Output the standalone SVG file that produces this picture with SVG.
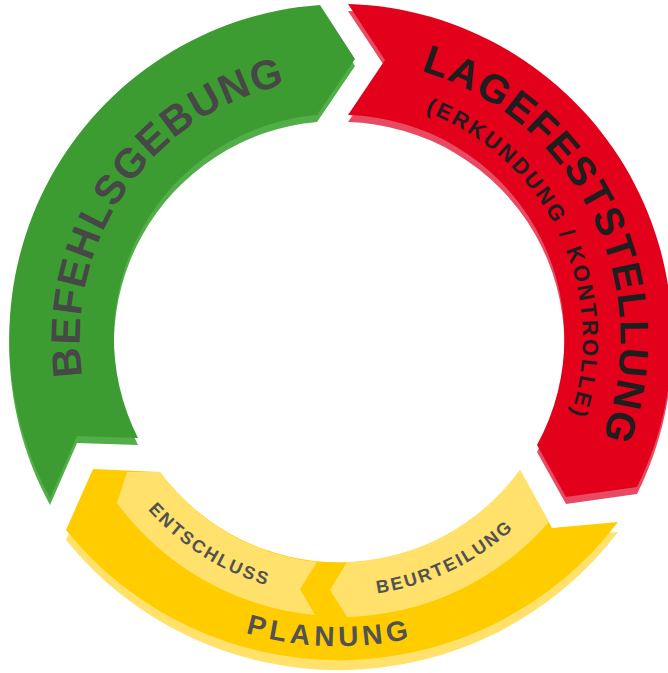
<svg xmlns="http://www.w3.org/2000/svg" width="668" height="673" viewBox="0 0 668 673">
<style>
.t{font-family:"Liberation Sans",Arial,Helvetica,sans-serif;font-weight:bold;}
.tg{fill:#474747;font-size:41px;letter-spacing:1.6px;}
.tr{fill:#1e1e1e;font-size:40px;letter-spacing:2px;}
.tr2{fill:#1e1e1e;font-size:22px;letter-spacing:2.6px;}
.ty{fill:#525252;font-size:18px;letter-spacing:2.2px;}
.ty2{fill:#525252;font-size:28px;letter-spacing:4.5px;}
</style>
<defs>
<path id="greenShape" d="M50,498 A334,334 0 0 1 320,5 L355,59 L317,115 A223,223 0 0 0 138,438 L77,436 Z"/>
<path id="redShape" d="M348,4 A334,334 0 0 1 637,487 L566,497 L537,445 A223,223 0 0 0 348,115 L385,60 Z"/>
<path id="yellowShape" d="M618,522 A351,351 0 0 1 66,530 L93,469 L160,472 A223,223 0 0 0 520,470 L552,528 Z"/>
<path id="pG" d="M172.9,538.2 A260,260 0 0 1 470,113.8" fill="none"/>
<path id="pR" d="M244.2,75.9 A280,280 0 0 1 488.4,576.5" fill="none"/>
<path id="pR2" d="M257.1,111.1 A242.5,242.5 0 0 1 468.5,544.7" fill="none"/>
<path id="pY" d="M86.9,383.6 A257,257 0 0 0 593.1,383.6" fill="none"/>
<path id="pY2" d="M7.1,367.5 A337,337 0 0 0 670.9,367.5" fill="none"/>
</defs>
<rect width="668" height="673" fill="#ffffff"/>
<g id="node-befehlsgebung">
<use href="#greenShape" transform="translate(0,7)" fill="#52ae48"/>
<use href="#greenShape" fill="#3c9c31"/>
<text class="t tg"><textPath href="#pG" startOffset="385.7" text-anchor="middle">BEFEHLSGEBUNG</textPath></text>
</g>
<g id="node-lagefeststellung">
<use href="#redShape" transform="translate(0,7)" fill="#e84a64"/>
<use href="#redShape" fill="#e2001a"/>
<text class="t tr"><textPath href="#pR" startOffset="410" text-anchor="middle">LAGEFESTSTELLUNG</textPath></text>
<text class="t tr2"><textPath href="#pR2" startOffset="358" text-anchor="middle">(ERKUNDUNG / KONTROLLE)</textPath></text>
</g>
<g id="node-planung">
<use href="#yellowShape" transform="translate(0,10)" fill="#ffe16b"/>
<use href="#yellowShape" fill="#ffcc00"/>
<text class="t ty2"><textPath href="#pY2" startOffset="460.8" text-anchor="middle">PLANUNG</textPath></text>
</g>
<g id="node-entschluss">
<path d="M127,472 L117,503 A278,278 0 0 0 315,615 L300,589 L317,562 A223,223 0 0 1 160,472 Z" fill="#ffe16b"/>
<text class="t ty"><textPath href="#pY" startOffset="213.7" text-anchor="middle">ENTSCHLUSS</textPath></text>
</g>
<g id="node-beurteilung">
<path d="M347,562 L330,590 L347,617 A278,278 0 0 0 549,522 L520,470 A223,223 0 0 1 347,562 Z" fill="#ffe16b"/>
<text class="t ty"><textPath href="#pY" startOffset="473.2" text-anchor="middle">BEURTEILUNG</textPath></text>
</g>
<g id="connectors"></g>
</svg>
